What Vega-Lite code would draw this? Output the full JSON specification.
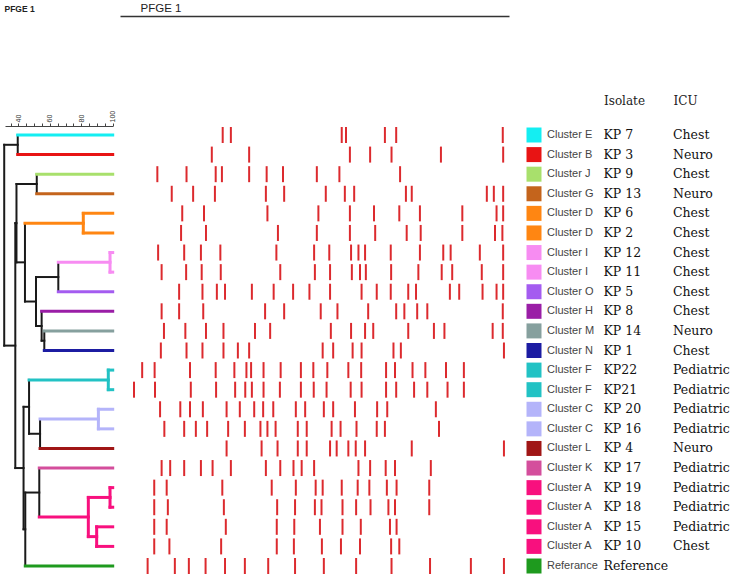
{
  "$schema": "https://vega.github.io/schema/vega-lite/v6.json",
  "width": 735,
  "height": 588,
  "autosize": "none",
  "padding": 0,
  "background": "white",
  "config": {"view": {"stroke": null}, "axis": {"grid": false}},
  "datasets": {
    "dendro": [
      {"x1": 31.0, "x2": 31.0, "y1": 0.5, "y2": 10.75, "g": "link"},
      {"x1": 31.0, "x2": 39.6, "y1": 0.5, "y2": 0.5, "g": "link"},
      {"x1": 39.6, "x2": 39.6, "y1": 0, "y2": 1, "g": "link"},
      {"x1": 31.0, "x2": 38.05, "y1": 10.75, "y2": 10.75, "g": "link"},
      {"x1": 38.05, "x2": 38.05, "y1": 4.5, "y2": 17, "g": "link"},
      {"x1": 38.05, "x2": 38.8, "y1": 4.5, "y2": 4.5, "g": "link"},
      {"x1": 38.8, "x2": 38.8, "y1": 2.5, "y2": 6.5, "g": "link"},
      {"x1": 38.8, "x2": 51.7, "y1": 2.5, "y2": 2.5, "g": "link"},
      {"x1": 51.7, "x2": 51.7, "y1": 2, "y2": 3, "g": "link"},
      {"x1": 38.8, "x2": 44.2, "y1": 6.5, "y2": 6.5, "g": "link"},
      {"x1": 44.2, "x2": 44.2, "y1": 4.5, "y2": 8.5, "g": "link"},
      {"x1": 44.2, "x2": 51.2, "y1": 8.5, "y2": 8.5, "g": "link"},
      {"x1": 51.2, "x2": 51.2, "y1": 7.25, "y2": 9.75, "g": "link"},
      {"x1": 51.2, "x2": 65.4, "y1": 7.25, "y2": 7.25, "g": "link"},
      {"x1": 65.4, "x2": 65.4, "y1": 6.5, "y2": 8, "g": "link"},
      {"x1": 51.2, "x2": 54.8, "y1": 9.75, "y2": 9.75, "g": "link"},
      {"x1": 54.8, "x2": 54.8, "y1": 9, "y2": 10.5, "g": "link"},
      {"x1": 54.8, "x2": 56.5, "y1": 10.5, "y2": 10.5, "g": "link"},
      {"x1": 56.5, "x2": 56.5, "y1": 10, "y2": 11, "g": "link"},
      {"x1": 38.05, "x2": 43.3, "y1": 17, "y2": 17, "g": "link"},
      {"x1": 43.3, "x2": 43.3, "y1": 13.875, "y2": 20.125, "g": "link"},
      {"x1": 43.3, "x2": 46.8, "y1": 13.875, "y2": 13.875, "g": "link"},
      {"x1": 46.8, "x2": 46.8, "y1": 12.5, "y2": 15.25, "g": "link"},
      {"x1": 46.8, "x2": 53.8, "y1": 15.25, "y2": 15.25, "g": "link"},
      {"x1": 53.8, "x2": 53.8, "y1": 14.5, "y2": 16, "g": "link"},
      {"x1": 43.3, "x2": 44.4, "y1": 20.125, "y2": 20.125, "g": "link"},
      {"x1": 44.4, "x2": 44.4, "y1": 18.25, "y2": 22, "g": "link"},
      {"x1": 44.4, "x2": 53.3, "y1": 18.25, "y2": 18.25, "g": "link"},
      {"x1": 53.3, "x2": 53.3, "y1": 17, "y2": 19.5, "g": "link"},
      {"x1": 39.6, "x2": 100, "y1": 0, "y2": 0, "g": "Cluster E"},
      {"x1": 39.6, "x2": 100, "y1": 1, "y2": 1, "g": "Cluster B"},
      {"x1": 51.7, "x2": 100, "y1": 2, "y2": 2, "g": "Cluster J"},
      {"x1": 51.7, "x2": 100, "y1": 3, "y2": 3, "g": "Cluster G"},
      {"x1": 44.2, "x2": 81.3, "y1": 4.5, "y2": 4.5, "g": "Cluster D"},
      {"x1": 81.3, "x2": 81.3, "y1": 4, "y2": 5, "g": "Cluster D"},
      {"x1": 81.3, "x2": 100, "y1": 4, "y2": 4, "g": "Cluster D"},
      {"x1": 81.3, "x2": 100, "y1": 5, "y2": 5, "g": "Cluster D"},
      {"x1": 65.4, "x2": 98.3, "y1": 6.5, "y2": 6.5, "g": "Cluster I"},
      {"x1": 98.3, "x2": 98.3, "y1": 6, "y2": 7, "g": "Cluster I"},
      {"x1": 98.3, "x2": 100, "y1": 6, "y2": 6, "g": "Cluster I"},
      {"x1": 98.3, "x2": 100, "y1": 7, "y2": 7, "g": "Cluster I"},
      {"x1": 65.4, "x2": 100, "y1": 8, "y2": 8, "g": "Cluster O"},
      {"x1": 54.8, "x2": 100, "y1": 9, "y2": 9, "g": "Cluster H"},
      {"x1": 56.5, "x2": 100, "y1": 10, "y2": 10, "g": "Cluster M"},
      {"x1": 56.5, "x2": 100, "y1": 11, "y2": 11, "g": "Cluster N"},
      {"x1": 46.8, "x2": 97.2, "y1": 12.5, "y2": 12.5, "g": "Cluster F"},
      {"x1": 97.2, "x2": 97.2, "y1": 12, "y2": 13, "g": "Cluster F"},
      {"x1": 97.2, "x2": 100, "y1": 12, "y2": 12, "g": "Cluster F"},
      {"x1": 97.2, "x2": 100, "y1": 13, "y2": 13, "g": "Cluster F"},
      {"x1": 53.8, "x2": 90.9, "y1": 14.5, "y2": 14.5, "g": "Cluster C"},
      {"x1": 90.9, "x2": 90.9, "y1": 14, "y2": 15, "g": "Cluster C"},
      {"x1": 90.9, "x2": 100, "y1": 14, "y2": 14, "g": "Cluster C"},
      {"x1": 90.9, "x2": 100, "y1": 15, "y2": 15, "g": "Cluster C"},
      {"x1": 53.8, "x2": 100, "y1": 16, "y2": 16, "g": "Cluster L"},
      {"x1": 53.3, "x2": 100, "y1": 17, "y2": 17, "g": "Cluster K"},
      {"x1": 53.3, "x2": 84.5, "y1": 19.5, "y2": 19.5, "g": "Cluster A"},
      {"x1": 84.5, "x2": 84.5, "y1": 18.5, "y2": 20.5, "g": "Cluster A"},
      {"x1": 84.5, "x2": 98.3, "y1": 18.5, "y2": 18.5, "g": "Cluster A"},
      {"x1": 98.3, "x2": 98.3, "y1": 18, "y2": 19, "g": "Cluster A"},
      {"x1": 98.3, "x2": 100, "y1": 18, "y2": 18, "g": "Cluster A"},
      {"x1": 98.3, "x2": 100, "y1": 19, "y2": 19, "g": "Cluster A"},
      {"x1": 84.5, "x2": 89.8, "y1": 20.5, "y2": 20.5, "g": "Cluster A"},
      {"x1": 89.8, "x2": 89.8, "y1": 20, "y2": 21, "g": "Cluster A"},
      {"x1": 89.8, "x2": 100, "y1": 20, "y2": 20, "g": "Cluster A"},
      {"x1": 89.8, "x2": 100, "y1": 21, "y2": 21, "g": "Cluster A"},
      {"x1": 44.4, "x2": 100, "y1": 22, "y2": 22, "g": "Referance"}
    ],
    "gel": [
      {"row": 0, "bands": [26.4, 28.5, 57.0, 58.1, 68.1, 71.0, 98.4]},
      {"row": 1, "bands": [23.6, 33.2, 59.1, 64.3, 69.8, 82.5, 98.5]},
      {"row": 2, "bands": [9.6, 17.1, 24.6, 26.2, 33.2, 37.7, 41.9, 50.6, 56.4, 72.0]},
      {"row": 3, "bands": [13.3, 18.8, 24.4, 37.5, 42.2, 52.9, 57.8, 60.2, 73.5, 75.0, 94.3, 96.1, 98.5]},
      {"row": 4, "bands": [16.0, 21.6, 37.9, 51.0, 59.1, 65.3, 71.8, 77.1, 88.0, 96.8, 98.5]},
      {"row": 5, "bands": [15.7, 22.1, 40.6, 50.6, 59.1, 65.6, 73.7, 77.3, 88.0, 96.4, 98.3]},
      {"row": 6, "bands": [9.8, 16.5, 20.8, 25.8, 40.2, 49.9, 53.8, 59.4, 61.3, 63.0, 69.6, 77.1, 83.1, 85.0, 92.5, 98.5]},
      {"row": 7, "bands": [10.7, 17.0, 21.0, 25.9, 41.2, 50.1, 54.0, 59.6, 61.7, 63.2, 69.7, 76.7, 82.7, 85.4, 93.0, 98.5]},
      {"row": 8, "bands": [15.2, 21.2, 24.9, 27.0, 33.9, 39.5, 44.5, 48.7, 54.0, 62.1, 66.0, 69.6, 74.1, 76.1, 84.8, 87.2, 93.2, 96.8, 98.5]},
      {"row": 9, "bands": [10.7, 15.2, 21.4, 37.3, 42.2, 51.6, 55.9, 63.8, 71.0, 73.1, 76.4, 79.0, 98.4]},
      {"row": 10, "bands": [11.3, 16.8, 22.1, 26.6, 34.7, 38.6, 54.2, 59.4, 63.0, 65.1, 74.1, 80.7, 83.4, 95.8, 98.4]},
      {"row": 11, "bands": [10.5, 17.1, 21.2, 26.6, 30.3, 33.2, 52.1, 54.8, 59.8, 62.1, 70.3, 72.2, 98.7]},
      {"row": 12, "bands": [5.7, 8.9, 18.0, 24.6, 29.4, 32.5, 33.7, 36.9, 41.3, 46.5, 49.7, 53.3, 58.7, 62.0, 68.4, 70.7, 75.2, 78.5, 83.8, 88.4]},
      {"row": 13, "bands": [3.6, 9.0, 18.2, 24.7, 29.6, 32.2, 33.9, 36.9, 41.1, 46.5, 49.8, 53.1, 59.3, 62.1, 68.4, 71.0, 75.6, 79.0, 84.2, 88.4]},
      {"row": 14, "bands": [10.3, 15.5, 18.0, 21.3, 27.4, 30.8, 34.5, 36.8, 39.4, 45.2, 47.6, 52.4, 54.8, 60.4, 66.1, 68.7, 81.2]},
      {"row": 15, "bands": [11.4, 16.5, 19.5, 22.4, 27.8, 32.1, 36.1, 37.9, 40.0, 45.7, 48.0, 54.4, 56.7, 60.8, 66.0, 68.1, 82.0]},
      {"row": 16, "bands": [27.4, 36.4, 40.5, 45.7, 48.0, 54.0, 55.7, 58.7, 60.6, 63.0, 75.0, 98.7]},
      {"row": 17, "bands": [10.7, 12.9, 16.5, 20.8, 23.8, 28.5, 37.5, 41.2, 44.6, 46.7, 49.9, 61.3, 64.3, 68.3, 70.7, 79.9]},
      {"row": 18, "bands": [8.8, 12.0, 26.3, 39.0, 45.2, 50.3, 52.1, 57.0, 61.1, 64.1, 68.6, 71.1, 79.5]},
      {"row": 19, "bands": [8.8, 12.3, 26.7, 40.4, 45.0, 50.1, 51.8, 57.2, 60.7, 64.4, 69.0, 70.7, 79.5]},
      {"row": 20, "bands": [8.8, 12.0, 27.2, 40.3, 44.8, 51.4, 57.2, 61.9, 69.4, 71.1]},
      {"row": 21, "bands": [8.8, 12.7, 26.0, 40.3, 44.7, 51.9, 56.8, 61.7, 69.7, 71.8]},
      {"row": 22, "bands": [7.1, 14.1, 17.7, 22.0, 27.0, 32.1, 38.1, 45.0, 52.4, 60.7, 69.8, 79.7, 90.2, 98.7]}
    ],
    "table": [
      {"row": 0, "cluster": "Cluster E", "Isolate": "KP 7", "ICU": "Chest"},
      {"row": 1, "cluster": "Cluster B", "Isolate": "KP 3", "ICU": "Neuro"},
      {"row": 2, "cluster": "Cluster J", "Isolate": "KP 9", "ICU": "Chest"},
      {"row": 3, "cluster": "Cluster G", "Isolate": "KP 13", "ICU": "Neuro"},
      {"row": 4, "cluster": "Cluster D", "Isolate": "KP 6", "ICU": "Chest"},
      {"row": 5, "cluster": "Cluster D", "Isolate": "KP 2", "ICU": "Chest"},
      {"row": 6, "cluster": "Cluster I", "Isolate": "KP 12", "ICU": "Chest"},
      {"row": 7, "cluster": "Cluster I", "Isolate": "KP 11", "ICU": "Chest"},
      {"row": 8, "cluster": "Cluster O", "Isolate": "KP 5", "ICU": "Chest"},
      {"row": 9, "cluster": "Cluster H", "Isolate": "KP 8", "ICU": "Chest"},
      {"row": 10, "cluster": "Cluster M", "Isolate": "KP 14", "ICU": "Neuro"},
      {"row": 11, "cluster": "Cluster N", "Isolate": "KP 1", "ICU": "Chest"},
      {"row": 12, "cluster": "Cluster F", "Isolate": "KP22", "ICU": "Pediatric"},
      {"row": 13, "cluster": "Cluster F", "Isolate": "KP21", "ICU": "Pediatric"},
      {"row": 14, "cluster": "Cluster C", "Isolate": "KP 20", "ICU": "Pediatric"},
      {"row": 15, "cluster": "Cluster C", "Isolate": "KP 16", "ICU": "Pediatric"},
      {"row": 16, "cluster": "Cluster L", "Isolate": "KP 4", "ICU": "Neuro"},
      {"row": 17, "cluster": "Cluster K", "Isolate": "KP 17", "ICU": "Pediatric"},
      {"row": 18, "cluster": "Cluster A", "Isolate": "KP 19", "ICU": "Pediatric"},
      {"row": 19, "cluster": "Cluster A", "Isolate": "KP 18", "ICU": "Pediatric"},
      {"row": 20, "cluster": "Cluster A", "Isolate": "KP 15", "ICU": "Pediatric"},
      {"row": 21, "cluster": "Cluster A", "Isolate": "KP 10", "ICU": "Chest"},
      {"row": 22, "cluster": "Referance", "Isolate": "Reference", "ICU": ""}
    ]
  },
  "layer": [
    {
      "data": {"name": "dendro"},
      "transform": [{"filter": "datum.g == 'link'"}],
      "mark": {"type": "rule", "strokeWidth": 2, "strokeCap": "square", "color": "#1a1a1a"},
      "encoding": {
        "x": {"field": "x1", "type": "quantitative",
          "scale": {"domain": [31.5, 100], "range": [5, 112.7], "nice": false, "zero": false},
          "axis": {"orient": "top", "offset": -126,
            "values": [35, 40, 45, 50, 55, 60, 65, 70, 75, 80, 85, 90, 95, 100],
            "labelExpr": "datum.value % 20 == 0 ? datum.label : ''",
            "labelAngle": -90, "labelAlign": "left", "labelBaseline": "middle",
            "labelFontSize": 7, "labelFont": "Liberation Sans", "labelColor": "#333",
            "labelPadding": 1, "labelOverlap": false, "labelBound": false, "labelFlush": false,
            "tickSize": 3, "tickColor": "#444", "domainColor": "#444", "domainWidth": 1,
            "title": "PFGE 1", "titleX": 4, "titleY": -118, "titleAlign": "left", "titleBaseline": "middle",
            "titleAngle": 0, "titleFontSize": 8.5, "titleFontWeight": "bold", "titleFont": "Liberation Sans", "titleColor": "#222"}},
        "x2": {"field": "x2"},
        "y": {"field": "y1", "type": "quantitative",
          "scale": {"domain": [0, 22], "range": [135, 566], "nice": false, "zero": false}, "axis": null},
        "y2": {"field": "y2"}
      }
    },
    {
      "data": {"name": "dendro"},
      "transform": [{"filter": "datum.g != 'link'"}],
      "mark": {"type": "rule", "strokeWidth": 3, "strokeCap": "square"},
      "encoding": {
        "x": {"field": "x1", "type": "quantitative",
          "scale": {"domain": [31.5, 100], "range": [5, 112.7], "nice": false, "zero": false}, "axis": null},
        "x2": {"field": "x2"},
        "y": {"field": "y1", "type": "quantitative",
          "scale": {"domain": [0, 22], "range": [135, 566], "nice": false, "zero": false}, "axis": null},
        "y2": {"field": "y2"},
        "color": {"field": "g", "type": "nominal", "legend": null,
          "scale": {"domain": ["Cluster E", "Cluster B", "Cluster J", "Cluster G", "Cluster D", "Cluster I", "Cluster O", "Cluster H", "Cluster M", "Cluster N", "Cluster F", "Cluster C", "Cluster L", "Cluster K", "Cluster A", "Referance"],
            "range": ["#14eef2", "#e81414", "#a8e06c", "#c4641c", "#ff8612", "#f78cf2", "#a45cf0", "#9a1ea6", "#86a09e", "#1c1ca2", "#22c2c4", "#b4b4fa", "#a01616", "#d44e9c", "#f8107e", "#1e9a1e"]}}
      }
    },
    {
      "data": {"name": "gel"},
      "transform": [{"flatten": ["bands"]}],
      "mark": {"type": "tick", "orient": "vertical", "size": 16, "thickness": 2, "color": "#dc2a2e", "opacity": 1},
      "encoding": {
        "x": {"field": "bands", "type": "quantitative",
          "scale": {"domain": [0, 100], "range": [120, 509], "nice": false, "zero": false},
          "axis": {"orient": "top", "offset": -16, "domain": true, "domainColor": "#333", "domainWidth": 1.5,
            "ticks": false, "labels": false,
            "title": "PFGE 1", "titleX": 140, "titleY": -8, "titleAlign": "left", "titleBaseline": "middle",
            "titleAngle": 0, "titleFontSize": 11.5, "titleFontWeight": "normal", "titleFont": "Liberation Sans", "titleColor": "#222"}},
        "y": {"field": "row", "type": "quantitative",
          "scale": {"domain": [0, 22], "range": [135, 566], "nice": false, "zero": false}, "axis": null}
      }
    },
    {
      "data": {"name": "table"},
      "mark": {"type": "square", "size": 225, "filled": true, "opacity": 1},
      "encoding": {
        "x": {"datum": "Cluster", "type": "nominal",
          "scale": {"type": "point", "domain": ["Cluster", "Isolate", "ICU"], "range": [534, 673], "padding": 0}, "axis": null},
        "y": {"field": "row", "type": "quantitative",
          "scale": {"domain": [0, 22], "range": [135, 566], "nice": false, "zero": false}, "axis": null},
        "color": {"field": "cluster", "type": "nominal", "legend": null,
          "scale": {"domain": ["Cluster E", "Cluster B", "Cluster J", "Cluster G", "Cluster D", "Cluster I", "Cluster O", "Cluster H", "Cluster M", "Cluster N", "Cluster F", "Cluster C", "Cluster L", "Cluster K", "Cluster A", "Referance"],
            "range": ["#14eef2", "#e81414", "#a8e06c", "#c4641c", "#ff8612", "#f78cf2", "#a45cf0", "#9a1ea6", "#86a09e", "#1c1ca2", "#22c2c4", "#b4b4fa", "#a01616", "#d44e9c", "#f8107e", "#1e9a1e"]}}
      }
    },
    {
      "data": {"name": "table"},
      "mark": {"type": "text", "align": "left", "baseline": "middle", "dx": 13, "font": "Liberation Sans", "fontSize": 11, "color": "#444"},
      "encoding": {
        "x": {"datum": "Cluster", "type": "nominal",
          "scale": {"type": "point", "domain": ["Cluster", "Isolate", "ICU"], "range": [534, 673], "padding": 0}, "axis": null},
        "y": {"field": "row", "type": "quantitative",
          "scale": {"domain": [0, 22], "range": [135, 566], "nice": false, "zero": false}, "axis": null},
        "text": {"field": "cluster"}
      }
    },
    {
      "data": {"name": "table"},
      "transform": [{"fold": ["Isolate", "ICU"], "as": ["key", "value"]}],
      "mark": {"type": "text", "align": "left", "baseline": "middle", "font": "DejaVu Serif", "fontSize": 12.5, "color": "#111"},
      "encoding": {
        "x": {"field": "key", "type": "nominal",
          "scale": {"type": "point", "domain": ["Cluster", "Isolate", "ICU"], "range": [534, 673], "padding": 0},
          "axis": {"orient": "top", "offset": -104, "domain": false, "ticks": false, "tickSize": 0, "labelPadding": 0,
            "labelAlign": "left", "labelBaseline": "alphabetic", "labelAngle": 0,
            "labelExpr": "datum.value == 'Cluster' ? '' : datum.value",
            "labelFont": "DejaVu Serif", "labelFontSize": 12, "labelColor": "#222", "title": null}},
        "y": {"field": "row", "type": "quantitative",
          "scale": {"domain": [0, 22], "range": [135, 566], "nice": false, "zero": false}, "axis": null},
        "text": {"field": "value"}
      }
    }
  ],
  "resolve": {"scale": {"x": "independent"}}
}
